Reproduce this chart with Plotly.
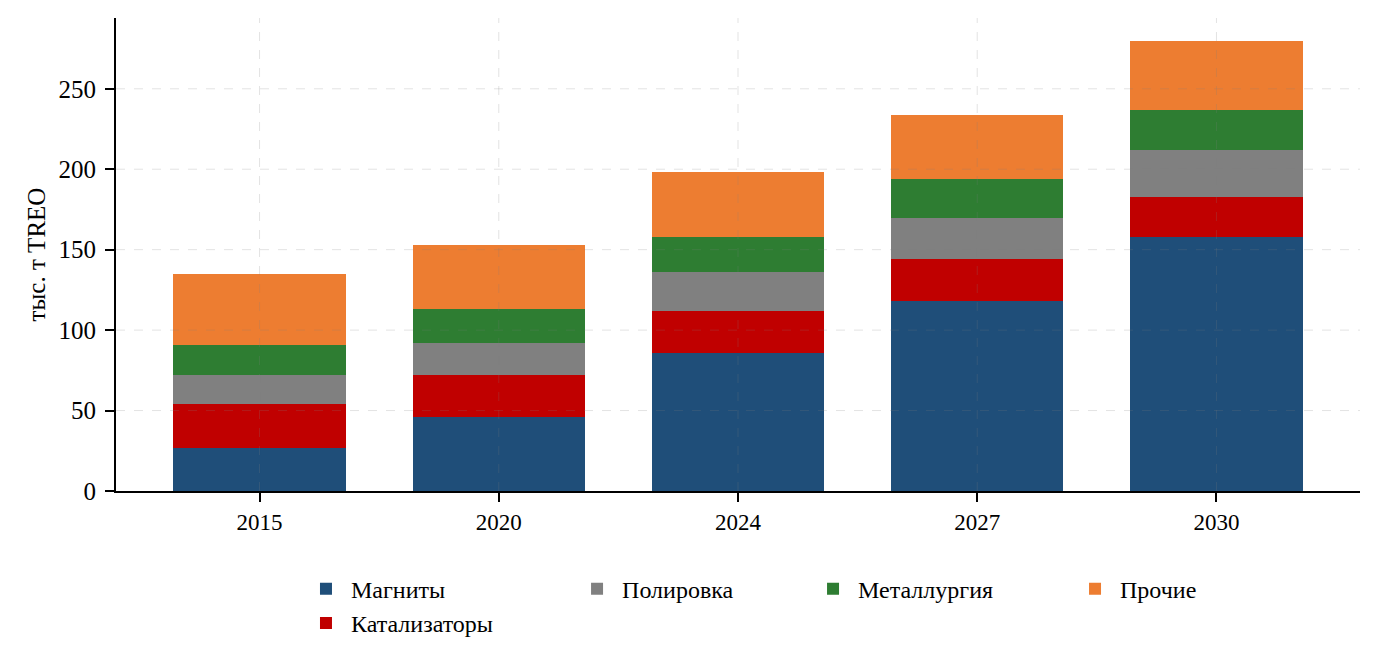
import plotly.graph_objects as go

years = ["2015", "2020", "2024", "2027", "2030"]
magnets = [27, 46, 86, 118, 158]
catalysts = [27, 26, 26, 26, 25]
polishing = [18, 20, 24, 26, 29]
metallurgy = [19, 21, 22, 24, 25]
other = [44, 40, 40, 40, 43]

series = [
    ("Магниты", magnets, "#1f4e79", "legend"),
    ("Катализаторы", catalysts, "#c00000", "legend"),
    ("Полировка", polishing, "#808080", "legend2"),
    ("Металлургия", metallurgy, "#2e7d32", "legend3"),
    ("Прочие", other, "#ed7d31", "legend4"),
]

FONT = "Liberation Serif, Times New Roman, serif"
Y_MAX = 294
Y_STEP = 50
GRID = "rgba(128,128,128,0.22)"

fig = go.Figure()
for name, vals, color, lg in series:
    fig.add_trace(go.Bar(x=years, y=vals, name=name, marker_color=color,
                         marker_line_width=0, legend=lg, legendgroup=name))

leg_common = dict(orientation="v", yanchor="top", traceorder="normal",
                  font=dict(family=FONT, size=24, color="black"),
                  bgcolor="rgba(0,0,0,0)", itemwidth=40, tracegroupgap=15,
                  itemclick=False)

# dashed grid drawn above the bars, at the axis tick values / category centres
shapes = []
for v in range(Y_STEP, Y_MAX, Y_STEP):
    shapes.append(dict(type="line", xref="paper", x0=0, x1=1, yref="y", y0=v, y1=v,
                       line=dict(color=GRID, width=1, dash="dash"), layer="above"))
for i, _ in enumerate(years):
    shapes.append(dict(type="line", xref="x", x0=i, x1=i, yref="paper", y0=0, y1=1,
                       line=dict(color=GRID, width=1, dash="dash"), layer="above"))

fig.update_layout(
    barmode="stack",
    bargap=0.28,
    width=1379, height=670,
    margin=dict(l=116, r=19, t=18, b=179),
    plot_bgcolor="white", paper_bgcolor="white",
    font=dict(family=FONT, size=23, color="black"),
    legend=dict(x=0.1487, y=-0.16, **leg_common),
    legend2=dict(x=0.3666, y=-0.16, **leg_common),
    legend3=dict(x=0.5563, y=-0.16, **leg_common),
    legend4=dict(x=0.7669, y=-0.16, **leg_common),
    shapes=shapes,
)
fig.update_xaxes(
    type="category",
    range=[-0.6, 4.6], showline=True, linecolor="black", linewidth=2,
    ticks="outside", ticklen=9, tickwidth=2, tickcolor="black",
    showgrid=False, layer="above traces",
    tickfont=dict(family=FONT, size=23),
)
fig.update_yaxes(
    range=[0, Y_MAX], dtick=Y_STEP, showline=True, linecolor="black", linewidth=2,
    ticks="outside", ticklen=9, tickwidth=2, tickcolor="black",
    showgrid=False, zeroline=False, layer="above traces",
    ticklabelstandoff=4,
    title=dict(text="тыс. т TREO", font=dict(family=FONT, size=25), standoff=6),
    tickfont=dict(family=FONT, size=25),
)
fig.write_html("out.html")
